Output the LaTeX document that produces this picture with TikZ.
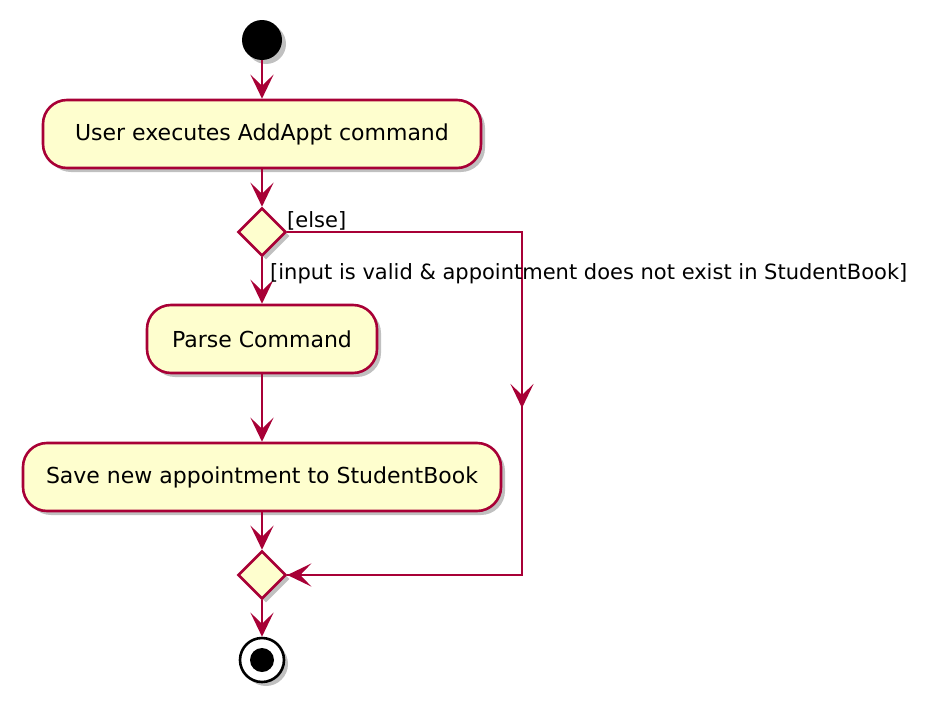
\documentclass[tikz,border=0pt]{standalone}
\usepackage{fontspec}
\setmainfont{DejaVu Sans}
\usetikzlibrary{arrows.meta,shadows,shapes.geometric}
\definecolor{pborder}{HTML}{A80036}
\definecolor{pfill}{HTML}{FEFECE}
\begin{document}
\begin{tikzpicture}[x=1pt,y=-1pt,
  actfont/.style={font=\fontsize{22}{26}\selectfont},
  lblfont/.style={font=\fontsize{21}{25}\selectfont},
  conn/.style={draw=pborder,line width=2.6pt,-{Stealth[length=24pt,width=23pt,inset=11pt]}},
  line/.style={draw=pborder,line width=2.6pt},
  shade/.style={drop shadow={shadow xshift=4pt,shadow yshift=-4pt,fill=black!45,opacity=0.55}},
  act/.style={draw=pborder,fill=pfill,line width=2.6pt,rounded corners=24pt,minimum height=68pt,inner xsep=6pt,actfont,shade},
  dec/.style={draw=pborder,fill=pfill,line width=2.6pt,diamond,minimum width=48pt,minimum height=48pt,inner sep=0pt,shade},
  lbl/.style={inner sep=0pt,lblfont}]
\useasboundingbox (0,0) rectangle (932,715);
\node[circle,fill=black,minimum size=40pt,inner sep=0pt,shade] (start) at (262,40) {};
\node[act,minimum width=438pt] (a1) at (262,134) {User executes AddAppt command};
\node[dec] (d1) at (262,232) {};
\node[act,minimum width=230pt] (a2) at (262,339) {Parse Command};
\node[act,minimum width=478pt] (a3) at (262,477) {Save new appointment to StudentBook};
\node[dec] (d2) at (262,575) {};
\node[circle,draw=black,fill=white,line width=2.6pt,minimum size=44pt,inner sep=0pt,shade] (stop) at (262,660) {};
\node[circle,fill=black,minimum size=24pt,inner sep=0pt] (stopin) at (stop) {};
\coordinate (c1) at (522,232);
\coordinate (c2) at (522,575);
\coordinate (cm) at (522,408);
\draw[conn] (start) -- (a1);
\draw[conn] (a1) -- (d1);
\draw[conn] (d1) -- (a2);
\draw[conn] (a2) -- (a3);
\draw[conn] (a3) -- (d2);
\draw[conn] (d2) -- (stop);
\draw[line] (d1.east) -- (c1) -- (c2) -- (d2.east);
\draw[conn] (c1) -- (cm);
\draw[conn] (c2) -- (d2.east);
\node[lbl,anchor=base west] at (287,227) {[else]};
\node[lbl,anchor=base west] at (270,279) {[input is valid \& appointment does not exist in StudentBook]};
\end{tikzpicture}
\end{document}
